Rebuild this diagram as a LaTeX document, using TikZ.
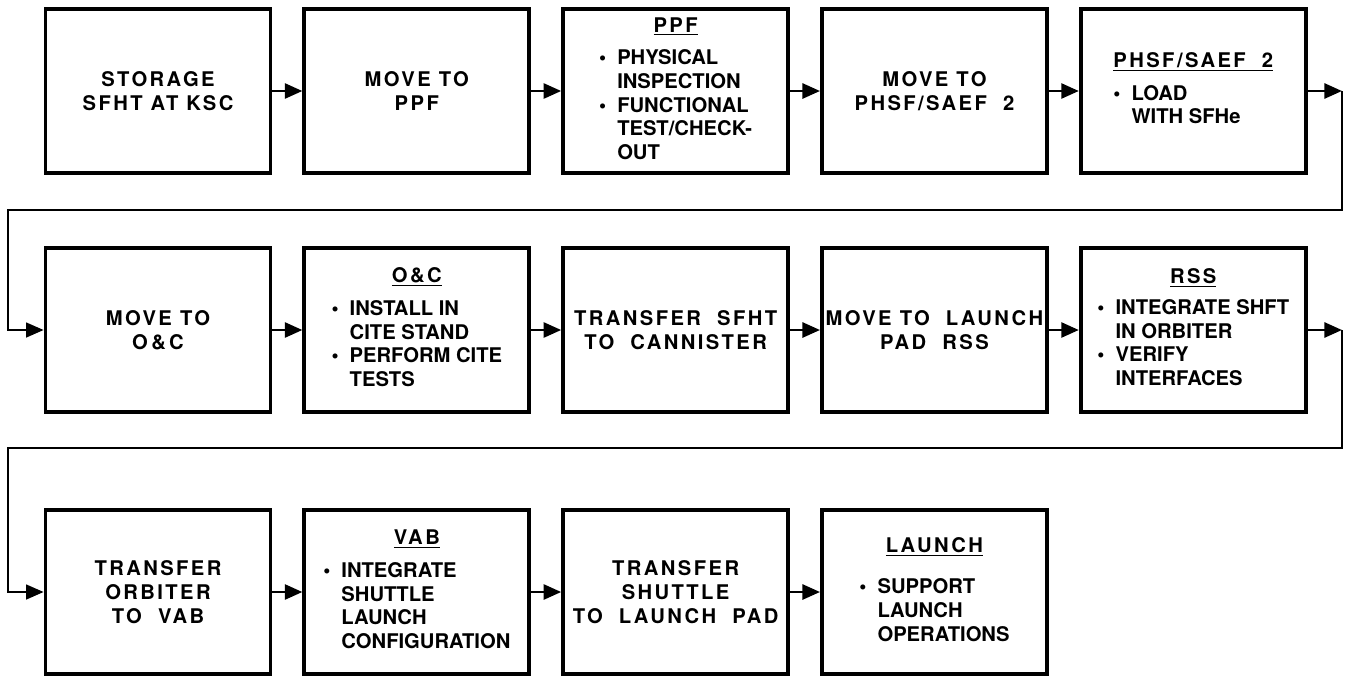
\documentclass[tikz,border=0pt]{standalone}
\usepackage{fontspec}
\setmainfont{TeX Gyre Heros}
\newfontfamily\widefont[LetterSpace=12]{TeX Gyre Heros}
\usetikzlibrary{arrows.meta,positioning}

\newcommand{\boxfont}{\fontsize{11.5}{13.5}\selectfont\bfseries}
\newcommand{\hdr}[1]{\multicolumn{1}{@{}c@{}}{\widefont\underline{#1}}}
\newcommand{\itm}{\makebox[0.9em][l]{\textbullet}}
\newcommand{\cnt}{\hspace*{0.9em}}

\tikzset{
  stepbox/.style={draw, line width=2.2pt, minimum width=4.5cm, minimum height=3.28cm,
    inner sep=1pt, align=center, font=\boxfont},
  widebox/.style={stepbox, font=\boxfont\widefont},
  link/.style={line width=1.6pt, -{Triangle[length=10pt,width=8.5pt]}},
  back/.style={line width=1pt, -{Triangle[length=10pt,width=8.5pt]}}
}

\begin{document}
\begin{tikzpicture}[x=0.02cm, y=-0.02cm, node distance=0.6cm]
  \useasboundingbox (0,0) rectangle (1347,677);

  % Row 1
  \node[widebox] (stor) at (158,91) {STORAGE\\SFHT AT KSC};
  \node[widebox, right=of stor] (mvppf) {MOVE TO\\PPF};
  \node[stepbox, right=of mvppf] (ppf) {\begin{tabular}{@{}l@{}}
      \hdr{PPF}\\[5pt]
      \itm PHYSICAL\\ \cnt INSPECTION\\
      \itm FUNCTIONAL\\ \cnt TEST/CHECK-\\ \cnt OUT
    \end{tabular}};
  \node[widebox, right=of ppf] (mvphsf) {MOVE TO\\PHSF/SAEF~ 2};
  \node[stepbox, right=of mvphsf] (phsf) {\begin{tabular}{@{}l@{}}
      \hdr{PHSF/SAEF~~2}\\[5pt]
      \itm LOAD\\ \cnt WITH SFHe
    \end{tabular}};

  % Row 2
  \node[widebox] (mvoc) at (158,330) {MOVE TO\\O\,\&\,C};
  \node[stepbox, right=of mvoc] (oc) {\begin{tabular}{@{}l@{}}
      \hdr{O\&C}\\[5pt]
      \itm INSTALL IN\\ \cnt CITE STAND\\
      \itm PERFORM CITE\\ \cnt TESTS
    \end{tabular}};
  \node[widebox, right=of oc] (xfer) {TRANSFER~ SFHT\\TO~ CANNISTER};
  \node[widebox, right=of xfer] (mvpad) {MOVE TO~ LAUNCH\\PAD~ RSS};
  \node[stepbox, right=of mvpad] (rss) {\begin{tabular}{@{}l@{}}
      \hdr{RSS}\\[4pt]
      \itm INTEGRATE SHFT\\ \cnt IN ORBITER\\
      \itm VERIFY\\ \cnt INTERFACES
    \end{tabular}};

  % Row 3
  \node[widebox] (xforb) at (158,592) {TRANSFER\\ORBITER\\TO~ VAB};
  \node[stepbox, right=of xforb] (vab) {\begin{tabular}{@{}l@{}}
      \hdr{VAB}\\[5pt]
      \itm INTEGRATE\\ \cnt SHUTTLE\\ \cnt LAUNCH\\ \cnt CONFIGURATION
    \end{tabular}};
  \node[widebox, right=of vab] (xfshut) {TRANSFER\\SHUTTLE\\TO~ LAUNCH~ PAD};
  \node[stepbox, right=of xfshut] (launch) {\begin{tabular}{@{}l@{}}
      \hdr{LAUNCH}\\[10pt]
      \itm SUPPORT\\ \cnt LAUNCH\\ \cnt OPERATIONS
    \end{tabular}};

  % Arrows along each row
  \foreach \a/\b in {stor/mvppf, mvppf/ppf, ppf/mvphsf, mvphsf/phsf,
      mvoc/oc, oc/xfer, xfer/mvpad, mvpad/rss,
      xforb/vab, vab/xfshut, xfshut/launch}
    \draw[link] (\a) -- (\b);

  % Returns to the next row
  \coordinate (r1) at (1342,210);
  \coordinate (t1) at (8,210);
  \coordinate (r2) at (1342,448);
  \coordinate (t2) at (8,448);
  \draw[link] (phsf.east) -- (phsf.east -| r1);
  \draw[back] (phsf.east -| r1) -- (r1) -- (t1) |- (mvoc.west);
  \draw[link] (rss.east) -- (rss.east -| r2);
  \draw[back] (rss.east -| r2) -- (r2) -- (t2) |- (xforb.west);
\end{tikzpicture}
\end{document}
